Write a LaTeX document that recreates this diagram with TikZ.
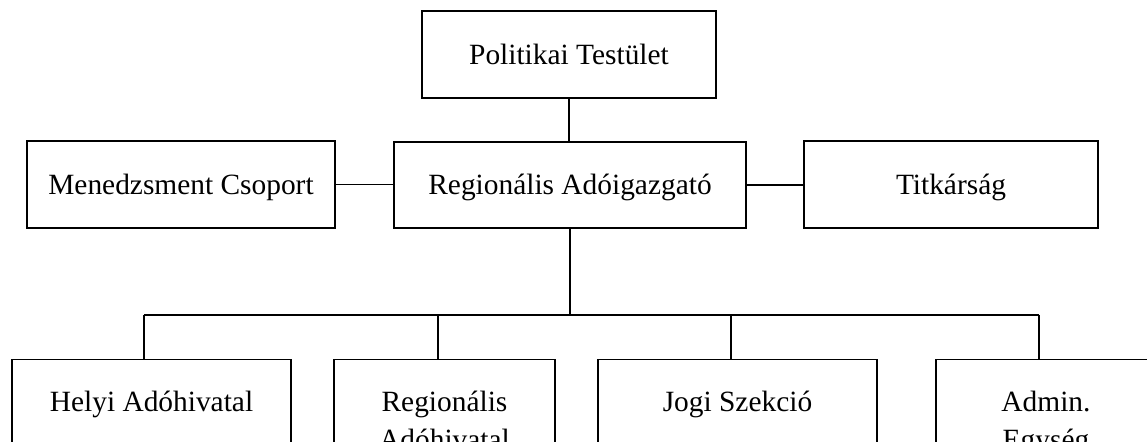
\documentclass[tikz,border=0pt]{standalone}
\usepackage{fontspec}
\setmainfont{Liberation Serif}
\begin{document}
\begin{tikzpicture}[x=0.5pt,y=-0.5pt,
  line width=0.65pt,
  font=\fontsize{14.7}{19}\selectfont,
  unit/.style={draw, rectangle, inner sep=0pt, text height=10pt, text depth=0pt},
  branch/.style={draw, rectangle, inner sep=0pt, anchor=north, minimum height=100pt},
  caption/.style={inner sep=0pt, anchor=base}]
  \useasboundingbox (0,0) rectangle (1147,442);
  \clip (0,0) rectangle (1147,442);

  % upper levels
  \node[unit, minimum width=147pt, minimum height=43.5pt] (pol) at (569,54.5) {Politikai Testület};
  \node[unit, minimum width=176pt, minimum height=43pt] (reg) at (570,185) {Regionális Adóigazgató};
  \node[unit, minimum width=154pt, minimum height=43.5pt] (men) at (181,184.5) {Menedzsment Csoport};
  \node[unit, minimum width=147pt, minimum height=43.5pt] (tit) at (951,184.5) {Titkárság};

  % departments (boxes run on below the lower edge)
  \node[branch, minimum width=139.5pt] (hel) at (151.5,359) {};
  \node[branch, minimum width=110.5pt] (rad) at (444.5,359) {};
  \node[branch, minimum width=139.5pt] (jog) at (737.5,359) {};
  \node[branch, minimum width=110pt]   (adm) at (1046,359) {};

  \node[caption] (helt) at (151.5,412) {Helyi Adóhivatal};
  \node[caption] (radt) at (444.5,412) {\begin{tabular}[t]{@{}c@{}}Regionális\\Adóhivatal\end{tabular}};
  \node[caption] (jogt) at (737.5,412) {Jogi Szekció};
  \node[caption] (admt) at (1046,412) {\begin{tabular}[t]{@{}c@{}}Admin.\\Egység\end{tabular}};

  % connectors
  \draw (pol.south) -- (pol.south |- reg.north);
  \draw (men.east) -- (men.east -| reg.west);
  \draw (reg.east) -- (reg.east -| tit.west);

  \coordinate (d1) at (144,315);
  \coordinate (d2) at (438,315);
  \coordinate (d3) at (731,315);
  \coordinate (d4) at (1039,315);
  \draw (reg.south) -- (reg.south |- d1);
  \draw (d1) -- (d4);
  \draw (d1) -- (d1 |- hel.north);
  \draw (d2) -- (d2 |- rad.north);
  \draw (d3) -- (d3 |- jog.north);
  \draw (d4) -- (d4 |- adm.north);
\end{tikzpicture}
\end{document}
